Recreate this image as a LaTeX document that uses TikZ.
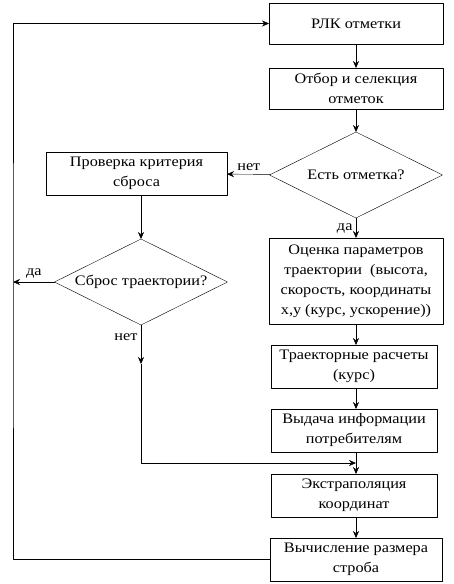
\documentclass[tikz,border=0pt]{standalone}
\usepackage{fontspec}
\setmainfont{Liberation Serif}[FakeStretch=1.12]
\usetikzlibrary{shapes.geometric,arrows.meta}
\begin{document}
\begin{tikzpicture}[x=1pt,y=-1pt,>={Stealth[length=7pt,width=6pt]},
  font=\fontsize{14.5}{20}\selectfont, line join=round,
  box/.style={draw, rectangle, align=center, outer sep=0pt, inner sep=2pt,
    minimum width=174pt, minimum height=41pt},
  cond/.style={draw, diamond, align=center, outer sep=0pt, inner sep=-3pt,
    aspect=2, minimum width=173pt, minimum height=86pt}]
\useasboundingbox (0,0) rectangle (453,584);
% blocks
\node[box] (rlk) at (356,23.5) {РЛК отметки};
\node[box] (otbor) at (356,88.5) {Отбор и селекция\\отметок};
\node[cond] (est) at (356,175) {Есть отметка?};
\node[box, minimum width=181pt, minimum height=43pt] (prov) at (136.5,173.5) {Проверка критерия\\сброса};
\node[cond] (sbros) at (141,282) {Сброс траектории?};
\node[box, minimum height=86pt] (ocenka) at (356,281) {Оценка параметров\\траектории\ \ (высота,\\скорость, координаты\\x,y (курс, ускорение))};
\node[box, minimum width=166pt, minimum height=43pt] (trass) at (354,366.5) {Траекторные расчеты\\(курс)};
\node[box, minimum width=166pt, minimum height=43pt] (vydacha) at (354,430.5) {Выдача информации\\потребителям};
\node[box, minimum width=166pt, minimum height=43pt] (extra) at (354,495.5) {Экстраполяция\\координат};
\node[box, minimum width=172pt, minimum height=43pt] (strob) at (356,559.5) {Вычисление размера\\строба};
\path
(13,300) coordinate (loop)
(141,364) coordinate (netmid)
(141,463) coordinate (netbot)
(356,463) coordinate (merge)
(13,282) coordinate (daend)
;
% connectors
\draw[->] (rlk) -- (otbor);
\draw[->] (otbor) -- (est);
\draw[->] (est) -- node[above]{нет} (prov);
\draw[->] (est) -- node[left]{да} (ocenka);
\draw[->] (prov.south -| sbros) -- (sbros);
\draw[->] (sbros) -- node[above]{да} (daend);
\draw[->] (sbros) -- node[pos=0.3,left]{нет} (netmid);
\draw[->] (netmid) -- (netbot) -- (merge);
\draw[->] (ocenka) -- (trass.north -| ocenka);
\draw[->] (trass.south -| ocenka) -- (vydacha.north -| ocenka);
\draw[->] (vydacha.south -| ocenka) -- (extra.north -| ocenka);
\draw[->] (extra.south -| ocenka) -- (strob);
\draw[->] (strob) -| (loop) |- (rlk);
\end{tikzpicture}
\end{document}
